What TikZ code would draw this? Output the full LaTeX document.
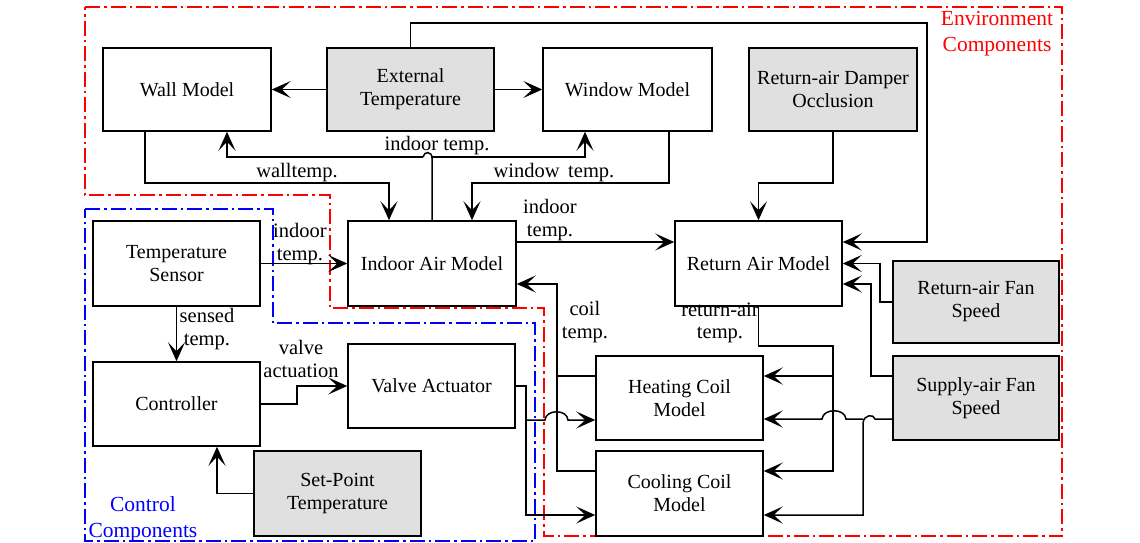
\documentclass[tikz,border=0pt]{standalone}
\usepackage{fontspec}
\setmainfont{Liberation Serif}
\usetikzlibrary{arrows.meta}
\definecolor{boxgray}{RGB}{224,224,224}
\definecolor{envred}{RGB}{255,0,0}
\definecolor{ctlblue}{RGB}{0,0,255}
\begin{document}
\begin{tikzpicture}[x=1pt,y=-1pt,line width=1.5pt,
  box/.style={draw,line width=1.5pt,inner sep=0pt,align=center,minimum width=167pt,minimum height=84pt,font=\fontsize{20}{23}\selectfont},
  sbox/.style={box,fill=boxgray},
  lbl/.style={inner sep=0pt,align=center,font=\fontsize{20.5}{22.5}\selectfont},
  grp/.style={inner sep=0pt,align=center,font=\fontsize{21.5}{26}\selectfont},
  arr/.style={-{Stealth[length=19pt,width=17pt,inset=9pt]}},
  ddot/.style={line width=1.4pt,dash pattern=on 15pt off 4pt on 2.5pt off 4pt}]
\useasboundingbox (0,0) rectangle (1140,543);

% group outlines
\draw[ddot,envred] (85,7) -- (1062,7) -- (1062,536) -- (544,536) -- (544,308) -- (330,308) -- (330,195) -- (85,195) -- cycle;
\draw[ddot,ctlblue] (85,209) -- (273,209) -- (273,323) -- (535,323) -- (535,541) -- (85,541) -- cycle;
\node[grp,text=envred] (envlbl) at (997,34) {Environment\\Components};
\node[grp,text=ctlblue] (ctllbl) at (143,519) {Control\\Components};

% boxes
\node[box,minimum width=168pt,minimum height=83pt] (wall) at (187,89.5) {Wall Model};
\node[sbox,minimum height=83pt] (ext) at (410.5,89.5) {External\\Temperature};
\node[box,minimum width=169pt,minimum height=83pt] (win) at (627.5,89.5) {Window Model};
\node[sbox,minimum width=168pt,minimum height=83pt] (damp) at (833,89.5) {Return-air Damper\\Occlusion};
\node[box,minimum width=168pt,minimum height=85pt] (indoor) at (432,263.5) {Indoor Air Model};
\node[box,minimum height=85pt] (sensor) at (176.5,263.5) {Temperature\\Sensor};
\node[box,minimum height=85pt] (ret) at (758.5,263.5) {Return Air Model};
\node[box] (ctrl) at (176.5,404) {Controller};
\node[box] (valve) at (431.5,386) {Valve Actuator};
\node[sbox,minimum height=85pt] (setp) at (337.5,493.5) {Set-Point\\Temperature};
\node[box] (heat) at (679.5,398) {Heating Coil\\Model};
\node[box,minimum height=85pt] (cool) at (679.5,493.5) {Cooling Coil\\Model};
\node[sbox,minimum width=166pt,minimum height=82pt] (rfan) at (976,302) {Return-air Fan\\Speed};
\node[sbox,minimum width=166pt] (sfan) at (976,398) {Supply-air Fan\\Speed};

% external temperature
\draw[arr] (ext.west) -- (wall.east);
\draw[arr] (ext.east) -- (win.west);
\draw[arr] (ext.north) |- (927,23) |- (ret.east |- 0,242);

% indoor temp to wall / window
\draw (indoor.north) -- (432,158) .. controls (432,151) and (424,151) .. (423,157);
\draw[arr] (423,157) -| (wall.south -| 227,0);
\draw[arr] (432,157) -| (win.south -| 585,0);
\node[lbl] (lit) at (437,146) {indoor temp.};

% wall / window temps
\draw[arr] (wall.south -| 145,0) -- (145,183) -| (indoor.north -| 389,0);
\node[lbl] (lwt) at (297,173) {walltemp.};
\draw[arr] (win.south -| 669,0) -- (669,183) -| (indoor.north -| 472,0);
\node[lbl] (lwin) at (554,173) {window\, temp.};

% sensor & controller
\draw[arr] (sensor.east) -- (indoor.west);
\node[lbl] (lst) at (300,244) {indoor\\temp.};
\draw[arr] (sensor.south) -- (ctrl.north);
\node[lbl] (lsn) at (207,329) {sensed\\temp.};
\draw[arr] (ctrl.east) -- (297,404) |- (valve.west);
\node[lbl] (lva) at (301,359) {valve\\actuation};
\draw[arr] (setp.west) -| (ctrl.south -| 217,0);

% valve to coils
\draw[arr] (valve.east) -- (526,386) |- (cool.west |- 0,515);
\draw[arr] (526,420) -- (545,420) .. controls (546,409) and (567,409) .. (568,420) -- (heat.west |- 0,420);

% coil temp
\draw[arr] (cool.west |- 0,471) -| (557,284) -- (indoor.east |- 0,284);
\draw (heat.west |- 0,376) -- (557,376);
\node[lbl] (lct) at (585,322) {coil\\temp.};

% indoor to return air
\draw[arr] (indoor.east |- 0,242) -- (ret.west |- 0,242);
\node[lbl] (lit2) at (550,220) {indoor\\temp.};

% damper
\draw[arr] (damp.south) -- (833,183) -| (ret.north);

% return air temp
\draw[arr] (ret.south) |- (833,346) |- (cool.east |- 0,471);
\draw[arr] (833,376) -- (heat.east |- 0,376);
\node[lbl] (lrt) at (720,323) {return-air\\temp.};

% fans
\draw[arr] (rfan.west) -- (880,302) |- (ret.east);
\draw[arr] (sfan.west |- 0,376) -- (871,376) |- (ret.east |- 0,284);
\draw[arr] (sfan.west |- 0,419) -- (875,419) .. controls (874,414) and (864,414) .. (863,423) |- (cool.east |- 0,515);
\draw[arr] (863,419) -- (846,419) .. controls (845,408) and (823,408) .. (822,419) -- (heat.east |- 0,419);
\end{tikzpicture}
\end{document}
